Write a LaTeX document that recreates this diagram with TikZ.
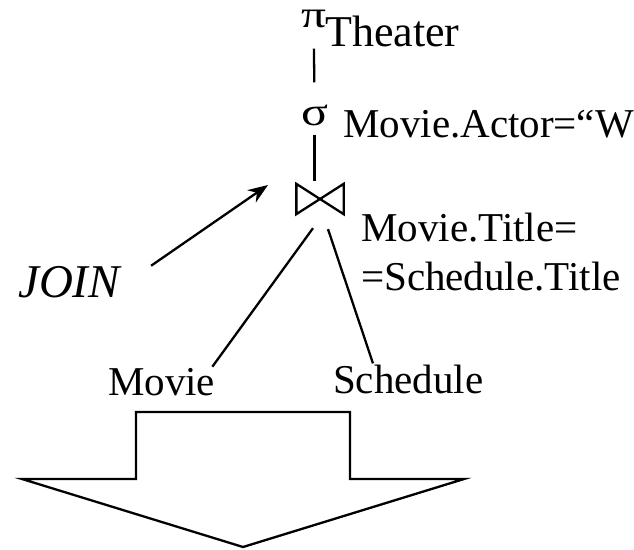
\documentclass[tikz,border=0pt]{standalone}
\usepackage{fontspec}
\setmainfont{Liberation Serif}
\usetikzlibrary{arrows.meta}

\begin{document}
\begin{tikzpicture}[x=1pt,y=-1pt,line width=2.3pt,
	lbl/.style={inner sep=0,anchor=base west,font=\fontsize{41}{49}\selectfont}]
	\clip (0,0) rectangle (634,549);
        \node[lbl,font=\fontsize{38}{42}\selectfont] (pi) at (300,27)     {\scalebox{1.3}[1]{π}};
        \node[lbl,font=\fontsize{44}{50}\selectfont] (proj) at (324,46)     {Theater};
        \node[lbl,font=\fontsize{40}{44}\selectfont] (sigma) at (300,125)     {\scalebox{1.25}[1]{σ}};
        \node[lbl] (cond) at (342,137)     {Movie.Actor=“W};
        \node[inner sep=0,minimum width=45,minimum height=28] (join) at (320,199)     {};
        \node[lbl] (jcond1) at (360,241)     {Movie.Title=};
        \node[lbl] (jcond2) at (360,290)     {=Schedule.Title};
        \node[lbl,font=\fontsize{47}{52}\selectfont\itshape] (joinword) at (17,297)     {JOIN};
        \node[lbl] (movie) at (107,395)     {Movie};
        \node[lbl] (schedule) at (332,393)     {Schedule};
        \coordinate (tip) at (268,185);

	\draw (join.north west) -- (join.south east) -- (join.north east) -- (join.south west) -- cycle;

	\path[-] (pi.south) edge[shorten <=20pt,shorten >=21pt] (sigma.north);
	\path[-] (sigma.south) edge[shorten <=8pt,shorten >=3pt] (sigma.south |- join.north);
	\path[-] ([xshift=-7pt,yshift=-14pt]join.south) edge ([xshift=-4pt]movie.north east);
	\path[-] ([xshift=8pt,yshift=-15pt]join.south) edge ([xshift=41pt]schedule.north west);
	\draw[-{Stealth[length=20pt,width=15pt]}] ([xshift=30pt,yshift=-1pt]joinword.north east) -- (tip);

	\draw (136,412) -- (350,412) -- (350,479) -- (464,479) -- (243,547) -- (22,479) -- (136,479) -- cycle;
\end{tikzpicture}
\end{document}
